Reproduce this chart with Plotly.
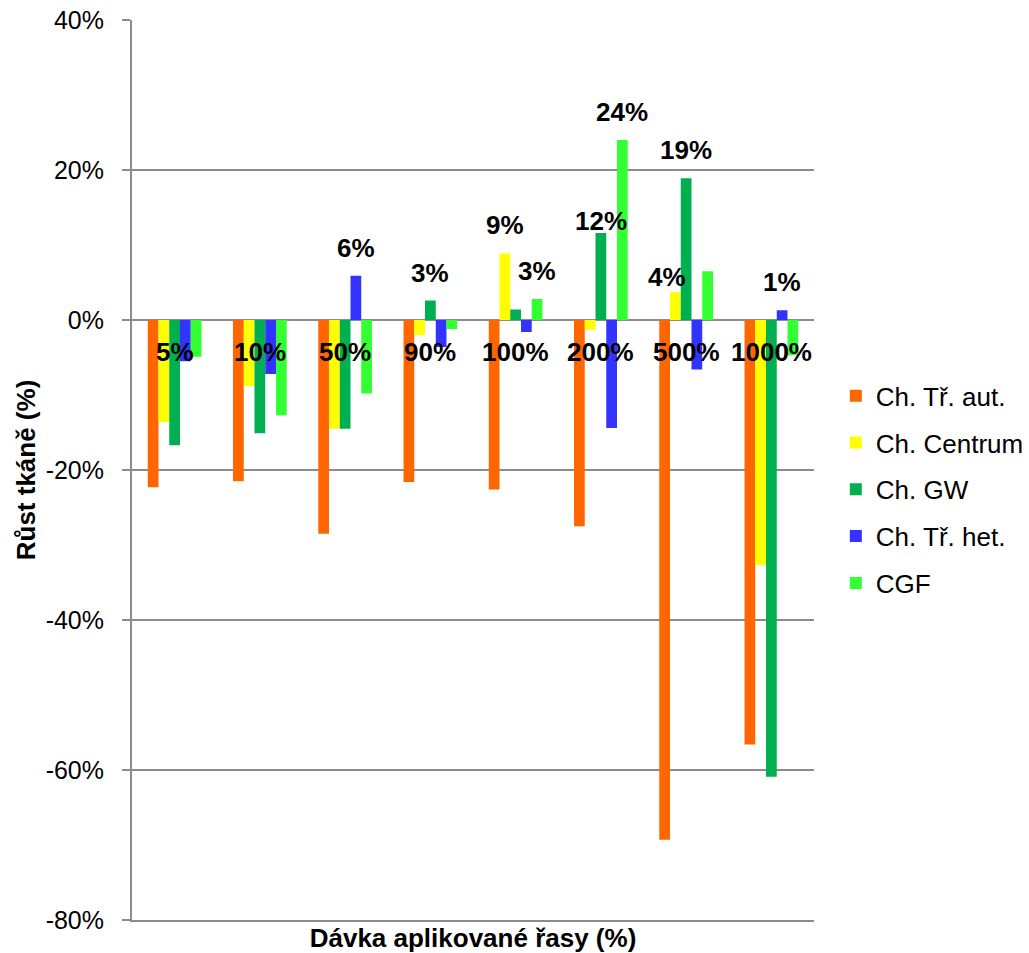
import plotly.graph_objects as go

categories = ["5%", "10%", "50%", "90%", "100%", "200%", "500%", "1000%"]
series_names = ["Ch. Tř. aut.", "Ch. Centrum", "Ch. GW", "Ch. Tř. het.", "CGF"]
aut = [-22.3, -21.5, -28.5, -21.6, -22.6, -27.5, -69.3, -56.6]
centrum = [-13.6, -8.8, -14.5, -2.0, 8.9, -1.3, 3.7, -32.7]
gw = [-16.7, -15.1, -14.5, 2.6, 1.4, 11.6, 18.9, -60.9]
het = [-5.5, -7.2, 5.9, -3.6, -1.6, -14.4, -6.6, 1.3]
cgf = [-4.9, -12.7, -9.8, -1.2, 2.8, 24.0, 6.5, -4.7]
series_values = [aut, centrum, gw, het, cgf]
colors = ["#FF6600", "#FFFF00", "#00B050", "#3333FF", "#33FF33"]

# points that carry a data label: (category index, series index)
labeled_points = [(2, 3), (3, 2), (4, 1), (4, 4), (5, 2), (5, 4), (6, 1), (6, 2), (7, 3)]
# manual label nudges (pixels) as in the original chart
label_nudges = {(5, 2): (0, -16), (6, 1): (-8, -13)}

y_ticks = [40, 20, 0, -20, -40, -60, -80]
y_ticktext = ["40%", "20%", "0%", "-20%", "-40%", "-60%", "-80%"]

FONT = "Liberation Sans, Arial, sans-serif"
GRID = "#8C8C8C"
BARGAP = 0.37

fig = go.Figure()
for i, (name, vals) in enumerate(zip(series_names, series_values)):
    fig.add_trace(go.Bar(
        x=categories, y=vals, name=name,
        marker=dict(color=colors[i], line=dict(width=0)),
        legendgroup=name,
    ))

annotations = []
for c in categories:
    annotations.append(dict(
        x=c, y=0, xref="x", yref="y", text=c, showarrow=False,
        yanchor="middle", yshift=-32,
        font=dict(family=FONT, size=26, color="black", weight="bold"),
    ))

n = len(series_names)
w = (1 - BARGAP) / n
for (ci, si) in labeled_points:
    v = series_values[si][ci]
    dx, dy = label_nudges.get((ci, si), (0, 0))
    annotations.append(dict(
        x=ci + (si - (n - 1) / 2) * w, y=v, xref="x", yref="y",
        text=f"{round(v):d}%", showarrow=False,
        yanchor="bottom", yshift=11 + dy, xshift=dx,
        font=dict(family=FONT, size=26, color="black", weight="bold"),
    ))

fig.update_layout(
    width=1029, height=953,
    margin=dict(l=132, r=215, t=20, b=33, autoexpand=False),
    paper_bgcolor="white", plot_bgcolor="white",
    barmode="group", bargap=BARGAP, bargroupgap=0,
    font=dict(family=FONT, size=25, color="black"),
    legend=dict(
        x=1.032, xanchor="left", y=0.478, yanchor="middle",
        font=dict(family=FONT, size=26, color="black"),
        tracegroupgap=10, traceorder="grouped",
        bgcolor="rgba(0,0,0,0)",
    ),
    annotations=annotations,
)
fig.update_xaxes(
    type="category", showticklabels=False, showgrid=False,
    showline=True, linecolor=GRID, linewidth=2,
    ticks="", zeroline=False, automargin=False,
    title=dict(text="Dávka aplikované řasy (%)", standoff=9,
               font=dict(family=FONT, size=26, color="black", weight="bold")),
)
fig.update_yaxes(
    range=[-80, 40], tickvals=y_ticks, ticktext=y_ticktext,
    showgrid=True, gridcolor=GRID, gridwidth=2,
    zeroline=True, zerolinecolor=GRID, zerolinewidth=2,
    showline=True, linecolor=GRID, linewidth=2,
    ticks="outside", ticklen=8, tickcolor=GRID, tickwidth=2,
    ticklabelstandoff=13, automargin=False,
    tickfont=dict(family=FONT, size=25, color="black"),
    title=dict(text="Růst tkáně (%)", standoff=3,
               font=dict(family=FONT, size=26, color="black", weight="bold")),
)

fig.write_html("out.html")
